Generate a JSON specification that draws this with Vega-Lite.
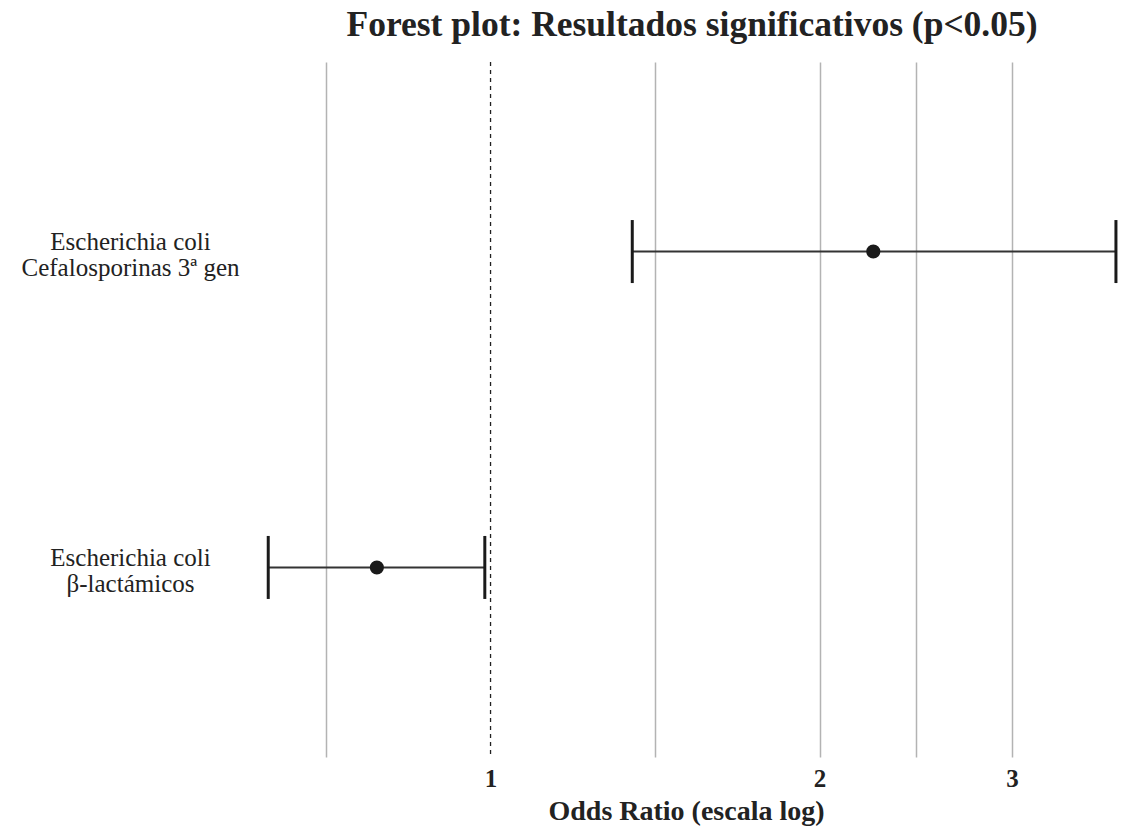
{
  "$schema": "https://vega.github.io/schema/vega-lite/v6.json",
  "width": 872,
  "height": 695,
  "autosize": {"type": "none"},
  "padding": {"left": 250, "top": 62, "right": 0, "bottom": 74},
  "background": "white",
  "title": {
    "text": "Forest plot: Resultados significativos (p<0.05)",
    "font": "Liberation Serif",
    "fontSize": 35.5,
    "fontWeight": "bold",
    "color": "#222222",
    "anchor": "middle",
    "baseline": "alphabetic",
    "offset": -10,
    "dx": 6
  },
  "config": {
    "view": {"stroke": null},
    "font": "Liberation Serif"
  },
  "datasets": {
    "rows": [
      {"grupo": "Escherichia coli\nCefalosporinas 3ª gen", "or": 2.24, "lower": 1.348, "upper": 3.735},
      {"grupo": "Escherichia coli\nβ-lactámicos", "or": 0.787, "lower": 0.626, "upper": 0.988}
    ],
    "ref": [{"ref": 1}]
  },
  "encoding": {
    "y": {
      "field": "grupo",
      "type": "nominal",
      "sort": null,
      "scale": {"type": "point", "padding": 0.6},
      "axis": {
        "title": null,
        "domain": false,
        "ticks": false,
        "grid": false,
        "labelAlign": "center",
        "labelBaseline": "middle",
        "labelPadding": 120,
        "labelOffset": -10,
        "labelFontSize": 25,
        "labelLineHeight": 26,
        "labelColor": "#222222",
        "labelFont": "Liberation Serif",
        "labelLimit": 400,
        "labelExpr": "split(datum.label, '\\n')"
      }
    }
  },
  "layer": [
    {
      "data": {"name": "ref"},
      "mark": {"type": "rule", "strokeDash": [4, 4], "strokeWidth": 1.3, "color": "#222222"},
      "encoding": {
        "x": {"field": "ref", "type": "quantitative", "scale": {"type": "log", "domain": [0.6024, 3.783], "nice": false}},
        "y": null
      }
    },
    {
      "data": {"name": "rows"},
      "mark": {"type": "rule", "strokeWidth": 2, "color": "#333333"},
      "encoding": {
        "x": {
          "field": "lower",
          "type": "quantitative",
          "scale": {"type": "log", "domain": [0.6024, 3.783], "nice": false},
          "axis": {
            "values": [0.7071, 1, 1.4142, 2, 2.4495, 3],
            "domain": false,
            "ticks": false,
            "grid": true,
            "gridColor": "#b3b3b3",
            "gridWidth": 1.5,
            "gridOpacity": {"condition": {"test": "datum.value == 1", "value": 0}, "value": 1},
            "labelExpr": "datum.value == 1 || datum.value == 2 || datum.value == 3 ? format(datum.value, 'd') : ''",
            "labelFontSize": 25,
            "labelFontWeight": "bold",
            "labelColor": "#222222",
            "labelFont": "Liberation Serif",
            "labelPadding": 9,
            "labelFlush": false,
            "labelOverlap": false,
            "title": "Odds Ratio (escala log)",
            "titleFontSize": 28,
            "titleFontWeight": "bold",
            "titleFont": "Liberation Serif",
            "titleColor": "#222222",
            "titlePadding": 6
          }
        },
        "x2": {"field": "upper"}
      }
    },
    {
      "data": {"name": "rows"},
      "mark": {"type": "tick", "orient": "vertical", "size": 63, "thickness": 3, "opacity": 1, "color": "#1a1a1a"},
      "encoding": {"x": {"field": "lower", "type": "quantitative"}}
    },
    {
      "data": {"name": "rows"},
      "mark": {"type": "tick", "orient": "vertical", "size": 63, "thickness": 3, "opacity": 1, "color": "#1a1a1a"},
      "encoding": {"x": {"field": "upper", "type": "quantitative"}}
    },
    {
      "data": {"name": "rows"},
      "mark": {"type": "point", "filled": true, "shape": "circle", "size": 200, "opacity": 1, "color": "#1a1a1a"},
      "encoding": {"x": {"field": "or", "type": "quantitative"}}
    }
  ]
}
